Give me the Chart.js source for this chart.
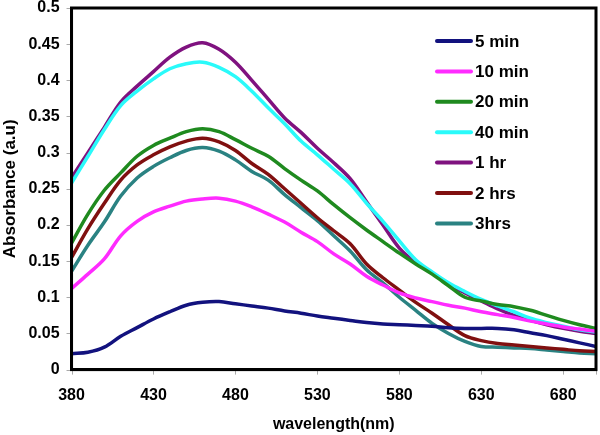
<!DOCTYPE html>
<html>
<head>
<meta charset="utf-8">
<script src="https://cdn.jsdelivr.net/npm/chart.js@4.4.0/dist/chart.umd.min.js"></script>
<style>
  html, body { margin: 0; padding: 0; background: #fff; overflow: hidden; }
  #wrap { width: 600px; height: 435px; }
</style>
</head>
<body>
<div id="wrap"><canvas id="myChart"></canvas></div>
<script>
// wavelengths (nm), one reading every 10 nm
const wavelength = [380, 390, 400, 410, 420, 430, 440, 450, 460, 470, 480, 490, 500, 510, 520, 530, 540,
  550, 560, 570, 580, 590, 600, 610, 620, 630, 640, 650, 660, 670, 680, 690, 700];

const min5 = [0.022, 0.024, 0.031, 0.046, 0.058, 0.070, 0.080, 0.089, 0.093, 0.094, 0.091, 0.088, 0.085,
  0.081, 0.078, 0.074, 0.071, 0.068, 0.065, 0.063, 0.062, 0.061, 0.060, 0.058, 0.057, 0.057, 0.057,
  0.055, 0.051, 0.047, 0.042, 0.037, 0.032];
const min10 = [0.112, 0.132, 0.153, 0.185, 0.205, 0.218, 0.226, 0.233, 0.236, 0.237, 0.233, 0.225, 0.215,
  0.204, 0.190, 0.177, 0.160, 0.146, 0.129, 0.117, 0.106, 0.099, 0.094, 0.089, 0.085, 0.080, 0.076,
  0.072, 0.067, 0.063, 0.059, 0.056, 0.053];
const min20 = [0.175, 0.215, 0.248, 0.272, 0.295, 0.310, 0.320, 0.329, 0.333, 0.329, 0.318, 0.306, 0.295,
  0.278, 0.262, 0.247, 0.228, 0.210, 0.193, 0.177, 0.161, 0.146, 0.132, 0.116, 0.100, 0.095, 0.090,
  0.087, 0.082, 0.075, 0.068, 0.062, 0.057];
const min40 = [0.258, 0.295, 0.332, 0.365, 0.385, 0.402, 0.416, 0.423, 0.425, 0.418, 0.405, 0.385, 0.362,
  0.340, 0.316, 0.297, 0.277, 0.257, 0.230, 0.205, 0.178, 0.152, 0.135, 0.120, 0.108, 0.097, 0.088,
  0.080, 0.071, 0.065, 0.060, 0.055, 0.052];
const hr1 = [0.265, 0.300, 0.335, 0.370, 0.392, 0.412, 0.432, 0.446, 0.452, 0.443, 0.425, 0.400, 0.374,
  0.348, 0.328, 0.306, 0.286, 0.264, 0.232, 0.200, 0.168, 0.148, 0.134, 0.118, 0.106, 0.095, 0.084,
  0.075, 0.068, 0.062, 0.057, 0.053, 0.050];
const hrs2 = [0.155, 0.195, 0.230, 0.262, 0.283, 0.297, 0.308, 0.316, 0.320, 0.315, 0.303, 0.285, 0.270,
  0.250, 0.230, 0.210, 0.192, 0.174, 0.146, 0.127, 0.110, 0.093, 0.078, 0.062, 0.047, 0.040, 0.036,
  0.034, 0.032, 0.030, 0.028, 0.026, 0.025];
const hrs3 = [0.136, 0.172, 0.204, 0.240, 0.265, 0.281, 0.293, 0.303, 0.307, 0.302, 0.290, 0.274, 0.262,
  0.242, 0.224, 0.206, 0.185, 0.164, 0.138, 0.120, 0.100, 0.082, 0.064, 0.050, 0.039, 0.032, 0.031,
  0.030, 0.029, 0.027, 0.025, 0.023, 0.022];

const seriesNames = ["5 min", "10 min", "20 min", "40 min", "1 hr", "2 hrs", "3hrs"];
const seriesData = [min5, min10, min20, min40, hr1, hrs2, hrs3];
const seriesColors = ["#12127e", "#ff2bff", "#1f8a1f", "#2afafa", "#7f127f", "#801010", "#2a8282"];

const xTicks = [380, 430, 480, 530, 580, 630, 680, 700];
const xLabels = ["380", "430", "480", "530", "580", "630", "680", ""];

const FONT = "'Liberation Sans', Arial, sans-serif";

const datasets = seriesNames.map((name, i) => ({
  label: name,
  data: wavelength.map((w, j) => ({ x: w, y: seriesData[i][j] })),
  borderColor: seriesColors[i],
  backgroundColor: seriesColors[i],
  borderWidth: 3.5,
  pointRadius: 0,
  tension: 0.35,
  fill: false
}));

// legend drawn inside the plot, small outside tick marks, and the black frame
const frameAndLegend = {
  id: 'frameAndLegend',
  afterDatasetsDraw(chart) {
    const { ctx, chartArea, scales } = chart;
    ctx.save();
    const x0 = chartArea.right - 159;
    chart.data.datasets.forEach((ds, i) => {
      const y = chartArea.top + 33 + i * 30.4;
      ctx.strokeStyle = ds.borderColor;
      ctx.lineWidth = 4;
      ctx.lineCap = 'round';
      ctx.beginPath();
      ctx.moveTo(x0, y);
      ctx.lineTo(x0 + 34, y);
      ctx.stroke();
      ctx.fillStyle = '#000';
      ctx.font = "bold 17px " + FONT;
      ctx.textBaseline = 'middle';
      ctx.textAlign = 'left';
      ctx.fillText(ds.label, x0 + 38, y + 1);
    });

    ctx.strokeStyle = '#aaa';
    ctx.lineWidth = 1;
    ctx.lineCap = 'butt';
    ctx.beginPath();
    scales.x.ticks.forEach(t => {
      const px = Math.round(scales.x.getPixelForValue(t.value)) + 0.5;
      ctx.moveTo(px, chartArea.bottom);
      ctx.lineTo(px, chartArea.bottom + 5);
    });
    scales.y.ticks.forEach(t => {
      const py = Math.round(scales.y.getPixelForValue(t.value)) + 0.5;
      ctx.moveTo(chartArea.left - 5, py);
      ctx.lineTo(chartArea.left, py);
    });
    ctx.stroke();

    ctx.strokeStyle = '#000';
    ctx.lineWidth = 3;
    ctx.strokeRect(chartArea.left, chartArea.top, chartArea.right - chartArea.left, chartArea.bottom - chartArea.top);
    ctx.restore();
  }
};

const ctx = document.getElementById('myChart').getContext('2d');
const chart = new Chart(ctx, {
  type: 'line',
  data: { datasets: datasets },
  options: {
    responsive: true,
    maintainAspectRatio: false,
    animation: false,
    layout: { padding: { left: 0, right: 4, top: 0, bottom: 0 } },
    plugins: {
      legend: { display: false },
      tooltip: { enabled: false }
    },
    scales: {
      x: {
        type: 'linear',
        min: 380,
        max: 700,
        afterBuildTicks: (axis) => { axis.ticks = xTicks.map(v => ({ value: v })); },
        grid: { display: true, drawOnChartArea: false, drawTicks: true, tickLength: 16, tickColor: 'rgba(0,0,0,0)' },
        border: { display: true, color: '#000', width: 3 },
        ticks: {
          padding: 0,
          maxRotation: 0,
          autoSkip: false,
          color: '#000',
          font: { family: FONT, size: 16, weight: 'bold' },
          callback: (v) => xLabels[xTicks.indexOf(v)]
        },
        title: {
          display: true,
          text: 'wavelength(nm)',
          color: '#000',
          padding: { top: 10, bottom: 1 },
          font: { family: FONT, size: 16, weight: 'bold' }
        }
      },
      y: {
        min: 0,
        max: 0.5,
        grid: { display: true, drawOnChartArea: false, drawTicks: true, tickLength: 12, tickColor: 'rgba(0,0,0,0)' },
        border: { display: true, color: '#000', width: 3 },
        ticks: {
          stepSize: 0.05,
          padding: 0,
          color: '#000',
          font: { family: FONT, size: 16, weight: 'bold', lineHeight: 1 },
          callback: (v) => String(parseFloat(v.toFixed(2)))
        },
        title: {
          display: true,
          text: 'Absorbance (a.u)',
          color: '#000',
          padding: { top: 0, bottom: 8 },
          font: { family: FONT, size: 17, weight: 'bold' }
        }
      }
    }
  },
  plugins: [frameAndLegend]
});
</script>
</body>
</html>
